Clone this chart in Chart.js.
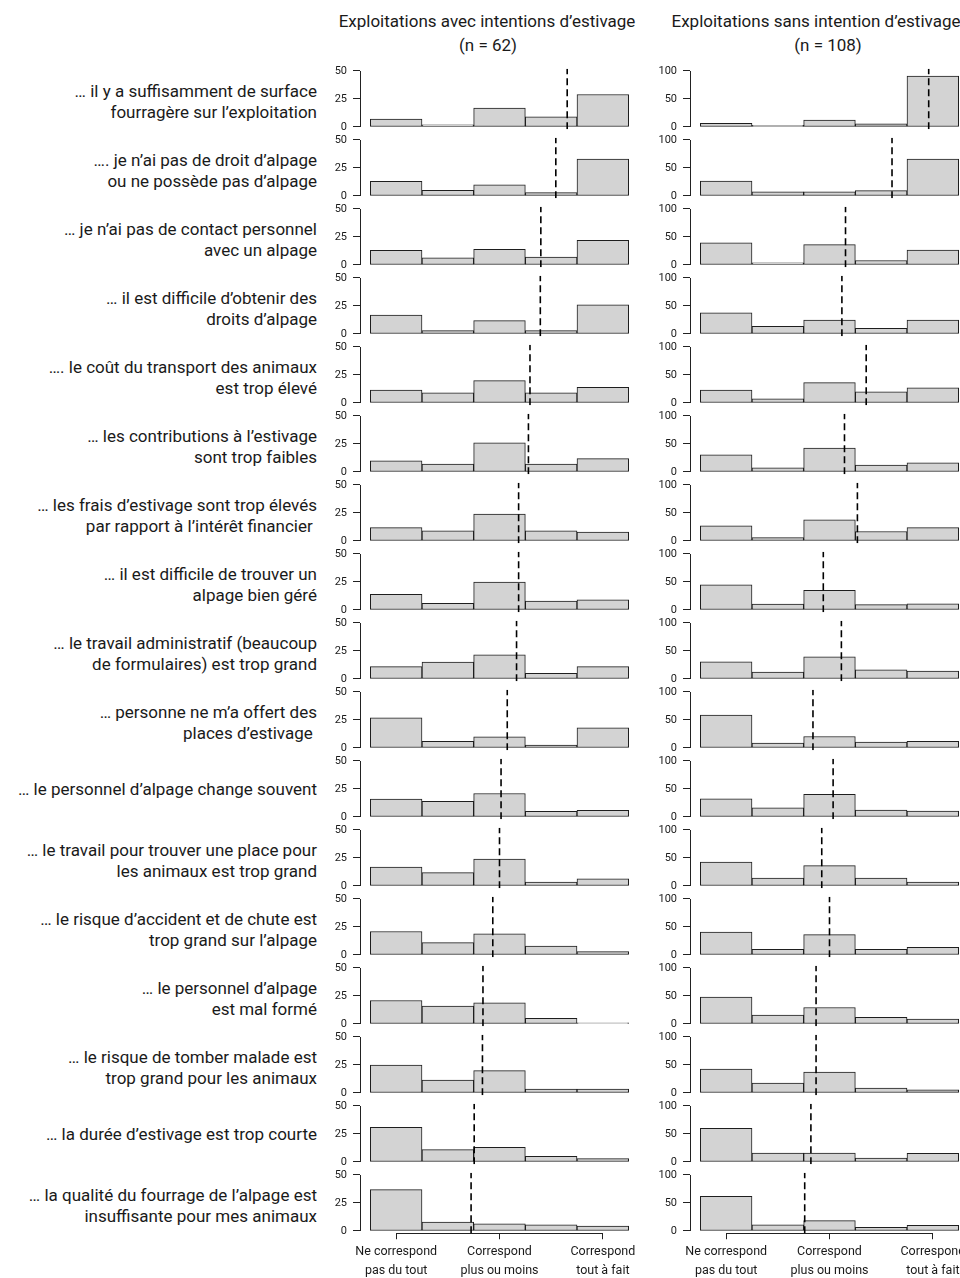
<!DOCTYPE html>
<html lang="fr">
<head>
<meta charset="utf-8">
<title>Raisons de ne pas estiver</title>
<script src="https://cdn.jsdelivr.net/npm/chart.js@4.4.1/dist/chart.umd.min.js"></script>
<style>
  html, body { margin: 0; padding: 0; background: #fff; }
  body { width: 960px; height: 1278px; position: relative; overflow: hidden;
         font-family: Roboto, "Noto Sans", sans-serif; color: #1a1a1a; }
  .titre { position: absolute; width: 400px; text-align: center; font-size: 17px;
           line-height: 24px; white-space: nowrap; }
  .raison { position: absolute; left: 0; width: 317px; text-align: right; font-size: 17px;
            line-height: 21px; white-space: pre; }
  canvas { position: absolute; }
</style>
</head>
<body>
<script>
/* ========================
   Données
   ======================== */
const raisons = [
  ["… il y a suffisamment de surface", "fourragère sur l’exploitation"],
  ["…. je n’ai pas de droit d’alpage", "ou ne possède pas d’alpage"],
  ["… je n’ai pas de contact personnel", "avec un alpage"],
  ["… il est difficile d’obtenir des", "droits d’alpage"],
  ["…. le coût du transport des animaux", "est trop élevé"],
  ["… les contributions à l’estivage", "sont trop faibles"],
  ["… les frais d’estivage sont trop élevés", "par rapport à l’intérêt financier "],
  ["… il est difficile de trouver un", "alpage bien géré"],
  ["… le travail administratif (beaucoup", "de formulaires) est trop grand"],
  ["… personne ne m’a offert des", "places d’estivage "],
  ["… le personnel d’alpage change souvent"],
  ["… le travail pour trouver une place pour", "les animaux est trop grand"],
  ["… le risque d’accident et de chute est", "trop grand sur l’alpage"],
  ["… le personnel d’alpage", "est mal formé"],
  ["… le risque de tomber malade est", "trop grand pour les animaux"],
  ["… la durée d’estivage est trop courte"],
  ["… la qualité du fourrage de l’alpage est", "insuffisante pour mes animaux"]
];

const classes = [1, 2, 3, 4, 5];
const xTicks = [1, 3, 5];
const xTickLabels = [["Ne correspond", "pas du tout"], ["Correspond", "plus ou moins"], ["Correspond", "tout à fait"]];

const titreAvec = ["Exploitations avec intentions d’estivage", "(n = 62)"];
const titreSans = ["Exploitations sans intention d’estivage", "(n = 108)"];
const yTicksAvec = [0, 25, 50];
const yTicksSans = [0, 50, 100];

// Exploitations avec intentions d'estivage (effectifs par classe)
const effectifsAvec = [
  [7, 2, 17, 9, 29],
  [13, 5, 10, 3, 33],
  [13, 6.5, 14, 7, 22],
  [17, 3, 12, 3, 26],
  [11.5, 9, 20, 9, 14],
  [10, 7, 26, 7, 12],
  [12, 9, 24, 9, 8],
  [14, 6, 25, 8, 9],
  [11, 15, 21.5, 5, 11],
  [27, 6, 10, 2.5, 18],
  [16, 14, 21, 5, 6],
  [17, 12, 24, 3.5, 6.5],
  [21, 11, 19, 8, 3],
  [21, 16, 19, 5, 1],
  [25, 11.5, 20, 3.5, 3.5],
  [31, 11, 13, 5, 3],
  [37, 8, 6.5, 5.5, 4.5]
];
const moyennesAvec = [4.31, 4.09, 3.80, 3.79, 3.59, 3.56, 3.37, 3.37, 3.33, 3.15, 3.03, 3.00, 2.87, 2.68, 2.67, 2.51, 2.45];

// Exploitations sans intention d'estivage
const effectifsSans = [
  [6.5, 3, 12.5, 5.5, 91],
  [26.5, 7.5, 7.5, 9.5, 66],
  [39.5, 4, 36.5, 8, 26.5],
  [38, 13.5, 25, 10, 25],
  [23, 7.5, 36.5, 20, 27],
  [30.5, 7.5, 42.5, 12.5, 16.5],
  [27, 6, 38, 17, 24],
  [45, 10.5, 35, 9.5, 11],
  [30.5, 12.5, 39.5, 16.5, 14],
  [59, 9, 20.5, 10.5, 12],
  [32.5, 16.5, 40.5, 12.5, 10.5],
  [42.5, 14, 36.5, 14, 7],
  [41, 10, 36.5, 10, 13.5],
  [48, 16, 29.5, 12, 9],
  [42.5, 17.5, 37.5, 9, 5.5],
  [60, 16, 16, 7, 15.5],
  [62, 11, 18.5, 6.5, 10]
];
const moyennesSans = [4.92, 4.21, 3.31, 3.24, 3.71, 3.29, 3.54, 2.88, 3.23, 2.68, 3.07, 2.85, 3.00, 2.74, 2.74, 2.64, 2.52];

/* ========================
   Mise en page
   ======================== */
const ZERO0 = 127;     // pixel du zéro de la première ligne
const PAS = 69;        // distance entre deux lignes
const HAUT = 60.48;    // hauteur de la zone de tracé
const X_AXE = 50;      // hauteur de l'axe x (dernière ligne)

const colonnes = [
  { left: 300, effectifs: effectifsAvec, moyennes: moyennesAvec, ticks: yTicksAvec, min: -2, max: 52,
    titre: titreAvec, centres: [487, 488] },
  { left: 630, effectifs: effectifsSans, moyennes: moyennesSans, ticks: yTicksSans, min: -4, max: 104,
    titre: titreSans, centres: [816, 828] }
];

Chart.defaults.font.family = "Roboto, 'Noto Sans', sans-serif";
Chart.defaults.color = "#1a1a1a";

// axes façon R : la ligne ne va que du premier au dernier tick
const axesR = {
  id: "axesR",
  afterDraw(chart, args, opts) {
    const { ctx, chartArea, scales } = chart;
    ctx.save();
    ctx.strokeStyle = "#222";
    ctx.lineWidth = 1;
    ctx.beginPath();
    const xl = Math.round(chartArea.left) + 0.5;
    ctx.moveTo(xl, scales.y.getPixelForValue(opts.yTicks[0]));
    ctx.lineTo(xl, scales.y.getPixelForValue(opts.yTicks[opts.yTicks.length - 1]));
    if (opts.xTicks) {
      const yb = Math.round(chartArea.bottom) + 0.5;
      ctx.moveTo(scales.x.getPixelForValue(opts.xTicks[0]), yb);
      ctx.lineTo(scales.x.getPixelForValue(opts.xTicks[opts.xTicks.length - 1]), yb);
    }
    ctx.stroke();
    ctx.restore();
  }
};

function ajouteTexte(cls, css, texte) {
  const d = document.createElement("div");
  d.className = cls;
  Object.assign(d.style, css);
  d.textContent = texte;
  document.body.appendChild(d);
}

function histogramme(col, i) {
  const dernier = i === raisons.length - 1;
  const zero = ZERO0 + PAS * i;
  const plotTop = zero - HAUT * col.max / (col.max - col.min);
  const top = Math.floor(plotTop) - 12;
  const hauteur = dernier ? 86 + X_AXE + 4 : 86;
  const padTop = plotTop - top;
  const padBottom = hauteur - padTop - HAUT - (dernier ? X_AXE : 0);

  const canvas = document.createElement("canvas");
  canvas.width = 350;
  canvas.height = hauteur;
  canvas.style.left = col.left + "px";
  canvas.style.top = top + "px";
  document.body.appendChild(canvas);

  const valeurs = col.effectifs[i];
  const moyenne = col.moyennes[i];

  new Chart(canvas, {
    type: "bar",
    data: {
      datasets: [
        {
          type: "line",
          data: [{ x: moyenne, y: col.min }, { x: moyenne, y: col.max }],
          borderColor: "#000",
          borderWidth: 1.6,
          borderDash: [7, 4],
          pointRadius: 0,
          order: 0
        },
        {
          type: "bar",
          data: classes.map((c, k) => ({ x: c, y: valeurs[k] })),
          backgroundColor: "#d3d3d3",
          borderColor: "#1e1e1e",
          borderWidth: 1,
          borderSkipped: false,
          barPercentage: 1,
          categoryPercentage: 1,
          order: 1
        }
      ]
    },
    options: {
      responsive: false,
      animation: false,
      devicePixelRatio: 1,
      layout: { padding: { left: 0, right: 11, top: padTop, bottom: padBottom } },
      plugins: {
        legend: { display: false },
        tooltip: { enabled: false },
        axesR: { yTicks: col.ticks, xTicks: dernier ? xTicks : null }
      },
      scales: {
        x: {
          type: "linear",
          min: 0.3,
          max: 5.7,
          offset: false,
          display: dernier,
          afterBuildTicks: s => { s.ticks = xTicks.map(v => ({ value: v })); },
          afterFit: s => { if (dernier) s.height = X_AXE; },
          grid: { offset: false, drawOnChartArea: false, drawTicks: true, tickLength: 6, color: "#222" },
          border: { display: false },
          ticks: {
            autoSkip: false,
            maxRotation: 0,
            padding: 4,
            font: { size: 12.5, lineHeight: 1.45 },
            callback: v => xTickLabels[xTicks.indexOf(v)]
          }
        },
        y: {
          type: "linear",
          min: col.min,
          max: col.max,
          afterBuildTicks: s => { s.ticks = col.ticks.map(v => ({ value: v })); },
          afterFit: s => { s.width = 60; },
          grid: { drawOnChartArea: false, drawTicks: true, tickLength: 7, color: "#222" },
          border: { display: false },
          ticks: { padding: 6, font: { size: 11 } }
        }
      }
    },
    plugins: [axesR]
  });
}

// Titres des colonnes
colonnes.forEach(col => {
  col.titre.forEach((ligne, k) => {
    ajouteTexte("titre", { left: (col.centres[k] - 200) + "px", top: (9 + 24 * k) + "px" }, ligne);
  });
});

// Libellés des raisons
raisons.forEach((lignes, i) => {
  const zero = ZERO0 + PAS * i;
  const centre = lignes.length > 1 ? zero - 25 : zero - 28;
  ajouteTexte("raison", { top: (centre - lignes.length * 21 / 2) + "px" }, lignes.join("\n"));
});

// Histogrammes
colonnes.forEach(col => {
  raisons.forEach((r, i) => histogramme(col, i));
});
</script>
</body>
</html>
